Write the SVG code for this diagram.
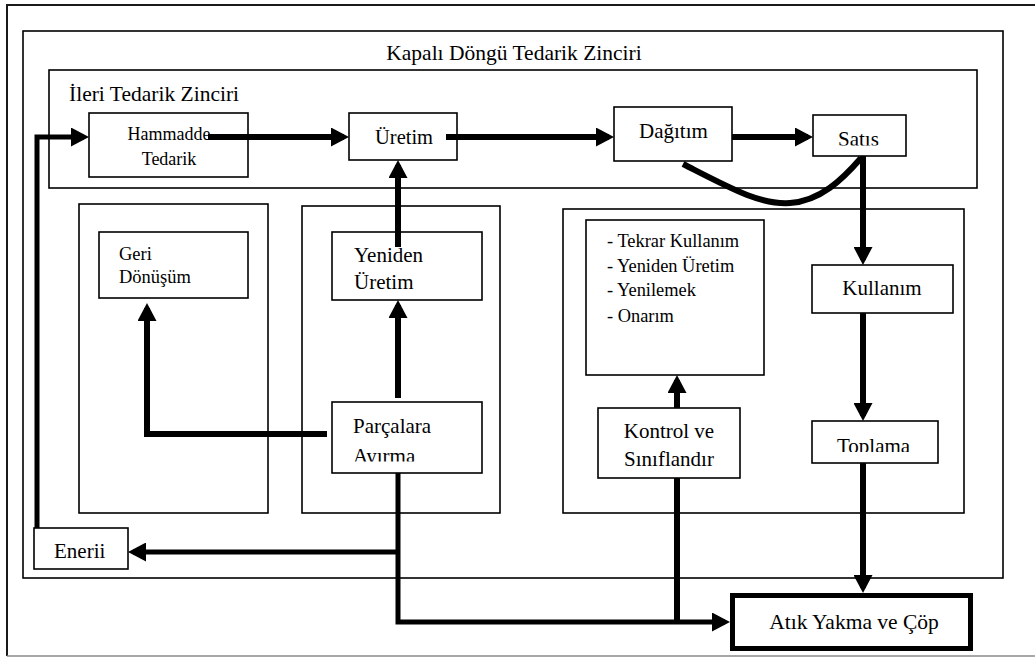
<svg xmlns="http://www.w3.org/2000/svg" width="1035" height="657" viewBox="0 0 1035 657" font-family="Liberation Serif, Times New Roman, serif">
  <style>
    .box { fill: #fff; stroke: #000; stroke-width: 1.6; }
    .frame { fill: none; stroke: #000; stroke-width: 1.6; }
    .flow { fill: none; stroke: #000; stroke-width: 6; stroke-linecap: butt; stroke-linejoin: miter; }
    .thin { stroke-width: 5; }
  </style>
  <defs>
    <marker id="ah" markerUnits="userSpaceOnUse" markerWidth="18" markerHeight="19" viewBox="0 0 18 19" refX="13" refY="9.5" orient="auto">
      <path d="M0,0 L18,9.5 L0,19 z" fill="#000"/>
    </marker>
    <clipPath id="clipSatis"><rect x="813" y="115" width="93" height="30.5"/></clipPath>
    <clipPath id="clipToplama"><rect x="812" y="421" width="126" height="31"/></clipPath>
    <clipPath id="clipAyirma"><rect x="332" y="440" width="150" height="21.5"/></clipPath>
    <clipPath id="clipUretim2"><rect x="332" y="271" width="150" height="29"/></clipPath>
  </defs>

  <!-- page frame -->
  <g id="page">
    <path d="M1036,5 H7 V656" fill="none" stroke="#1a1a1a" stroke-width="2"/>
    <line x1="7" y1="656" x2="1036" y2="656" stroke="#8a8a8a" stroke-width="1.5"/>
  </g>

  <!-- closed loop supply chain container -->
  <g id="closed-loop">
    <rect class="frame" x="23" y="31" width="980" height="547"/>
    <text x="514" y="60" font-size="21.5" text-anchor="middle">Kapalı Döngü Tedarik Zinciri</text>
  </g>

  <!-- forward supply chain container -->
  <g id="forward-chain">
    <rect class="frame" x="49" y="70" width="928" height="118"/>
    <text x="69" y="101" font-size="21.5">İleri Tedarik Zinciri</text>
  </g>

  <!-- reverse-side containers -->
  <g id="recycle-area"><rect class="frame" x="79" y="204" width="189" height="309"/></g>
  <g id="remanufacture-area"><rect class="frame" x="302" y="206" width="198" height="307"/></g>
  <g id="recovery-area"><rect class="frame" x="563" y="209" width="401" height="304"/></g>

  <!-- nodes -->
  <g id="hammadde">
    <rect class="box" x="89" y="113" width="159" height="64"/>
    <text x="169" y="140" font-size="18" text-anchor="middle">Hammadde</text>
    <text x="169" y="165" font-size="18" text-anchor="middle">Tedarik</text>
  </g>
  <g id="uretim">
    <rect class="box" x="349" y="113" width="108" height="47"/>
    <text x="375" y="144" font-size="20.5">Üretim</text>
  </g>
  <g id="dagitim">
    <rect class="box" x="614" y="107" width="118" height="54"/>
    <text x="639" y="138" font-size="21">Dağıtım</text>
  </g>
  <g id="satis">
    <rect class="box" x="813" y="115" width="93" height="41"/>
    <text x="838" y="146" font-size="21" clip-path="url(#clipSatis)">Satıs</text>
  </g>
  <g id="geri-donusum">
    <rect class="box" x="99" y="232" width="149" height="66"/>
    <text x="119" y="260" font-size="18.5">Geri</text>
    <text x="119" y="283" font-size="18.5">Dönüşüm</text>
  </g>
  <g id="yeniden-uretim">
    <rect class="box" x="332" y="232" width="150" height="68"/>
    <text x="354" y="262" font-size="21">Yeniden</text>
    <text x="354" y="289" font-size="21" clip-path="url(#clipUretim2)">Üretim</text>
  </g>
  <g id="parcalara-ayirma">
    <rect class="box" x="332" y="402" width="150" height="71"/>
    <text x="353" y="433" font-size="21">Parçalara</text>
    <text x="353" y="462.5" font-size="21" clip-path="url(#clipAyirma)">Ayırma</text>
  </g>
  <g id="secenekler">
    <rect class="box" x="586" y="220" width="178" height="155"/>
    <text x="607" y="247" font-size="18.4">- Tekrar Kullanım</text>
    <text x="607" y="272" font-size="18.4">- Yeniden Üretim</text>
    <text x="607" y="296" font-size="18.4">- Yenilemek</text>
    <text x="607" y="322" font-size="18.4">- Onarım</text>
  </g>
  <g id="kontrol">
    <rect class="box" x="598" y="408" width="142" height="70"/>
    <text x="669" y="438" font-size="21" text-anchor="middle">Kontrol ve</text>
    <text x="669" y="466" font-size="21" text-anchor="middle">Sınıflandır</text>
  </g>
  <g id="kullanim">
    <rect class="box" x="812" y="265" width="141" height="48"/>
    <text x="882" y="295" font-size="21" text-anchor="middle">Kullanım</text>
  </g>
  <g id="toplama">
    <rect class="box" x="812" y="421" width="126" height="42"/>
    <text x="837" y="452.5" font-size="21" clip-path="url(#clipToplama)">Toplama</text>
  </g>
  <g id="enerji">
    <rect class="box" x="34" y="528" width="94" height="41"/>
    <text x="54" y="558" font-size="21">Enerii</text>
  </g>
  <g id="atik">
    <rect x="732.5" y="595.5" width="238" height="53" fill="#fff" stroke="#000" stroke-width="5"/>
    <text x="854" y="629" font-size="21.5" text-anchor="middle">Atık Yakma ve Çöp</text>
  </g>

  <!-- connectors -->
  <g id="connectors">
    <path class="flow" d="M208,137 H344" marker-end="url(#ah)"/>
    <path class="flow" d="M446,137 H609" marker-end="url(#ah)"/>
    <path class="flow" d="M732,137 H808" marker-end="url(#ah)"/>
    <path class="flow" d="M683,164 C730,188 760,205 790,203 C820,201 842,180 861,158"/>
    <path class="flow" d="M863,156 V260" marker-end="url(#ah)"/>
    <path class="flow" d="M863,313 V416" marker-end="url(#ah)"/>
    <path class="flow" d="M863,463 V588" marker-end="url(#ah)"/>
    <path class="flow" d="M398,247 V165" marker-end="url(#ah)"/>
    <path class="flow" d="M398,398 V305" marker-end="url(#ah)"/>
    <path class="flow" d="M327,434 H147 V308" marker-end="url(#ah)"/>
    <path class="flow thin" d="M398,473 V622 H725" marker-end="url(#ah)"/>
    <path class="flow thin" d="M398,552 H133" marker-end="url(#ah)"/>
    <path class="flow" d="M677,408 V380" marker-end="url(#ah)"/>
    <path class="flow" d="M677,478 V622"/>
    <path class="flow thin" d="M37,528 V137 H84" marker-end="url(#ah)"/>
  </g>
</svg>
